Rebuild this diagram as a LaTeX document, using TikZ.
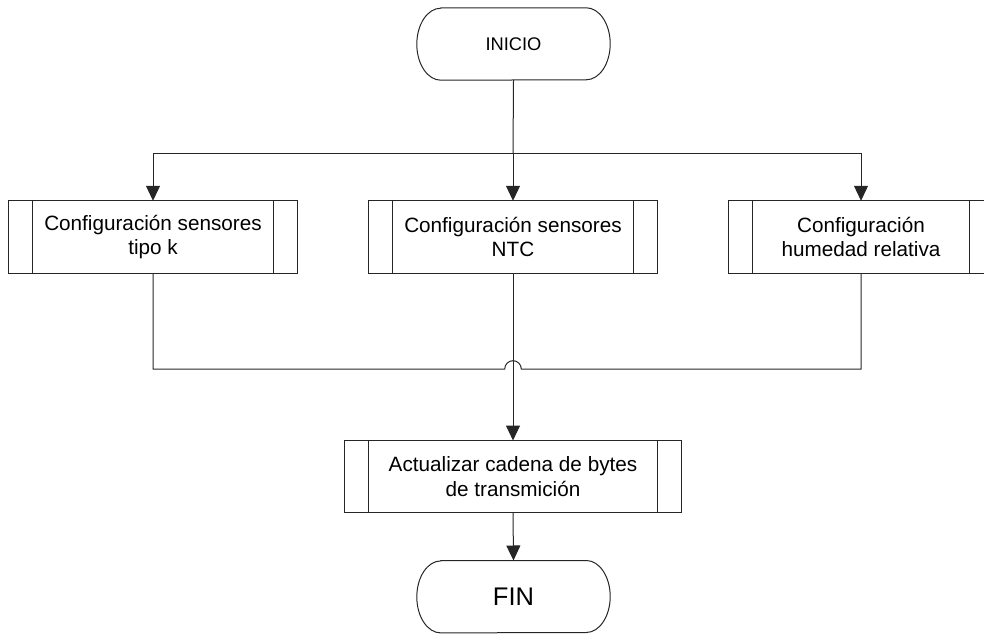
\documentclass[tikz,border=0pt]{standalone}
\usepackage{fontspec}
\setmainfont{Liberation Sans}
\usetikzlibrary{arrows.meta}
\begin{document}
\begin{tikzpicture}[x=1pt,y=1pt,
  line/.style={draw=black!85,line width=1pt},
  arr/.style={line,-{Triangle[length=15pt,width=14pt]}},
  txt/.style={font=\fontsize{20.7pt}{24.5pt}\selectfont,align=center,inner sep=0pt},
]
\useasboundingbox (0,0) rectangle (984,635);
% terminal shapes
\newcommand{\termshape}[1]{%
  \draw[line] ([xshift=24pt]#1.north west) -- ([xshift=-24pt]#1.north east)
    arc[start angle=90,end angle=-90,x radius=24pt,y radius=36pt]
    -- ([xshift=24pt]#1.south west)
    arc[start angle=270,end angle=90,x radius=24pt,y radius=36pt] -- cycle;}
\newcommand{\subshape}[1]{%
  \draw[line] (#1.south west) rectangle (#1.north east);
  \draw[line] ([xshift=24pt]#1.south west) -- ([xshift=24pt]#1.north west);
  \draw[line] ([xshift=-24pt]#1.south east) -- ([xshift=-24pt]#1.north east);}
\node[minimum width=193pt,minimum height=72pt,inner sep=0pt] (ini) at (513.5,591) {};
\node[font=\fontsize{18.3pt}{22pt}\selectfont] at (ini) {INICIO};
\termshape{ini}
\node[minimum width=193pt,minimum height=72pt,inner sep=0pt] (fin) at (513.5,38.3) {};
\node[font=\fontsize{25.5pt}{30pt}\selectfont] at (fin) {FIN};
\termshape{fin}
% subprocess boxes
\node[txt,minimum width=288pt,minimum height=72pt] (b1) at (153,398) {Configuración sensores\\tipo k};
\subshape{b1}
\node[txt,minimum width=288pt,minimum height=72pt] (b2) at (513,398) {Configuración sensores\\NTC};
\subshape{b2}
\node[txt,minimum width=264pt,minimum height=72pt] (b3) at (861,398) {Configuración\\humedad relativa};
\subshape{b3}
\node[txt,minimum width=336pt,minimum height=72pt] (up) at (513,158.3) {Actualizar cadena de bytes\\de transmición};
\subshape{up}
% connectors
\coordinate (split) at (513,481.7);
\coordinate (hl) at (504.7,266);
\coordinate (hr) at (521.3,266);
\draw[line] (ini.south) -- (split);
\draw[arr] (split) -| (b1.north);
\draw[arr] (split) -| (b3.north);
\draw[arr] (split) -- (b2.north);
\draw[line] (b1.south) |- (hl) arc[start angle=180,end angle=0,radius=8.3pt] -- (hr) -| (b3.south);
\draw[arr] (b2.south) -- (up.north);
\draw[arr] (up.south) -- (fin.north);
\end{tikzpicture}
\end{document}
